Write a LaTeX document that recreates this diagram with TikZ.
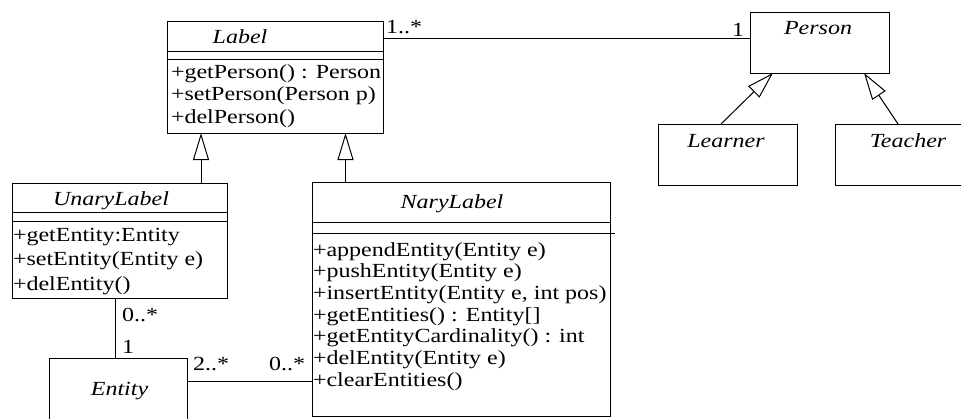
\documentclass[tikz,border=0pt]{standalone}
\usepackage{fontspec}
\setmainfont{Liberation Serif}[FakeStretch=1.2]
\usetikzlibrary{arrows.meta}

\begin{document}
\begin{tikzpicture}[x=1pt, y=-1pt, line width=1pt,
  every node/.style={font=\fontsize{20pt}{24pt}\selectfont, inner sep=0pt, outer sep=0pt},
  cls/.style={draw, rectangle},
  cname/.style={anchor=base, font=\fontsize{20pt}{24pt}\selectfont\itshape},
  meth/.style={anchor=base west},
  mult/.style={anchor=base west},
  inherit/.style={-{Triangle[open, length=27pt, width=16pt]}}]

\useasboundingbox (0,0) rectangle (961,418);

% Label oben
\node[cls, minimum width=216pt, minimum height=112pt] (Label) at (275,77) {};
\draw ([yshift=-30pt]Label.north west) -- ([yshift=-30pt]Label.north east);
\draw ([yshift=-38pt]Label.north west) -- ([yshift=-38pt]Label.north east);
\node[cname] (Label-n) at (240,43) {Label};
\foreach \m [count=\i from 0] in {+getPerson() : Person, +setPerson(Person p), +delPerson()}
  \node[meth] (Label-m\i) at (171,78+22.5*\i) {\m};

% Person und Unterklassen rechts
\node[cls, minimum width=139pt, minimum height=61pt] (Person) at (819.5,42.5) {};
\node[cname] (Person-n) at (818,34) {Person};
\node[cls, minimum width=139pt, minimum height=61pt] (Learner) at (727.5,154.5) {};
\node[cname] (Learner-n) at (726,147) {Learner};
\node[cls, minimum width=146pt, minimum height=61pt] (Teacher) at (908,154.5) {};
\node[cname] (Teacher-n) at (908,147) {Teacher};

% UnaryLabel links
\node[cls, minimum width=215pt, minimum height=115pt] (Unary) at (119.5,240.5) {};
\draw ([yshift=-29pt]Unary.north west) -- ([yshift=-29pt]Unary.north east);
\draw ([yshift=-38pt]Unary.north west) -- ([yshift=-38pt]Unary.north east);
\node[cname] (Unary-n) at (111,205) {UnaryLabel};
\foreach \m [count=\i from 0] in {+getEntity:Entity, +setEntity(Entity e), +delEntity()}
  \node[meth] (Unary-m\i) at (13,241+24.7*\i) {\m};

% NaryLabel mitte
\node[cls, minimum width=298pt, minimum height=234pt] (Nary) at (461,299) {};
\draw ([yshift=-40pt]Nary.north west) -- ++(299,0);
\draw ([yshift=-51pt]Nary.north west) -- ++(303,0);
\node[cname] (Nary-n) at (452,208) {NaryLabel};
\foreach \m [count=\i from 0] in {+appendEntity(Entity e), +pushEntity(Entity e),
    {+insertEntity(Entity e, int pos)}, +getEntities() : Entity[],
    +getEntityCardinality() : int, +delEntity(Entity e), +clearEntities()}
  \node[meth] (Nary-m\i) at (313,256+21.7*\i) {\m};

% Entity unten
\node[cls, minimum width=138pt, minimum height=62pt] (Entity) at (118,389) {};
\node[cname] (Entity-n) at (119.5,395) {Entity};

% Vererbung
\draw[inherit] ([xshift=81.5pt]Unary.north) -- ([xshift=81.5pt]Unary.north |- Label.south);
\draw[inherit] ([xshift=-115.5pt]Nary.north) -- ([xshift=-115.5pt]Nary.north |- Label.south);
\draw[inherit] ([xshift=-6.5pt]Learner.north) -- ([xshift=-46.5pt]Person.south);
\draw[inherit] ([xshift=-10pt]Teacher.north) -- ([xshift=44.5pt]Person.south);

% Assoziationen
\coordinate (lp) at ([yshift=-17pt]Label.north east);
\draw (lp) -- (lp -| Person.west);
\node[mult] (m-lp1) at (386,33) {1..*};
\node[mult, anchor=base east] (m-lp2) at (744,36) {1};

\coordinate (ue) at ([xshift=-4.5pt]Unary.south);
\draw (ue) -- (ue |- Entity.north);
\node[mult] (m-ue1) at (122,321) {0..*};
\node[mult] (m-ue2) at (122,353) {1};

\coordinate (en) at ([yshift=-23pt]Entity.north east);
\draw (en) -- (en -| Nary.west);
\node[mult] (m-en1) at (193,370) {2..*};
\node[mult] (m-en2) at (269,370) {0..*};

\end{tikzpicture}
\end{document}
